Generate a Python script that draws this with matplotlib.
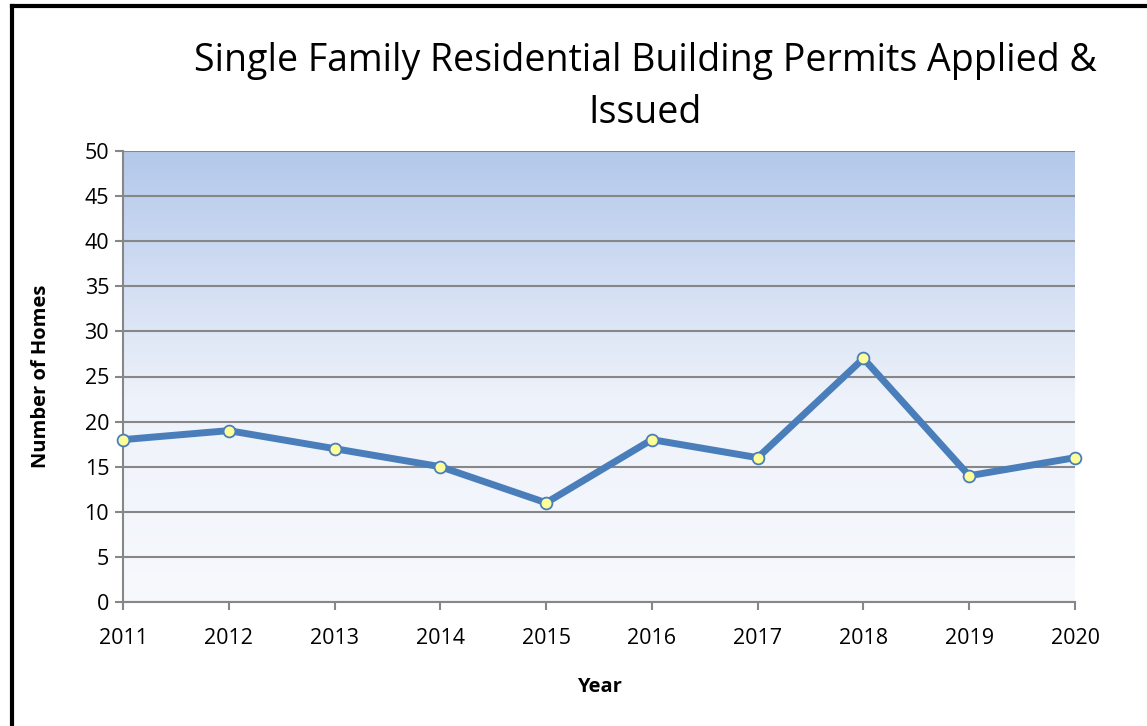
import matplotlib
matplotlib.use("Agg")
import matplotlib.pyplot as plt
import numpy as np
from matplotlib.colors import LinearSegmentedColormap
from matplotlib.lines import Line2D

years = ["2011", "2012", "2013", "2014", "2015", "2016", "2017", "2018", "2019", "2020"]
homes = [18, 19, 17, 15, 11, 18, 16, 27, 14, 16]
yticks = [0, 5, 10, 15, 20, 25, 30, 35, 40, 45, 50]

plt.rcParams['font.family'] = ['Open Sans', 'DejaVu Sans']

W, H = 1147, 726
fig = plt.figure(figsize=(W/100, H/100), dpi=100)
fig.patch.set_facecolor('white')

ax = fig.add_axes([123/W, 1-602/H, (1075-123)/W, (602-151)/H])
x = np.arange(len(years))

# gradient background
cmap = LinearSegmentedColormap.from_list('g', [(0, '#F7F9FD'), (0.45, '#EEF2FA'), (1, '#B3C8EA')])
grad = np.linspace(0, 1, 256).reshape(-1, 1)
ax.imshow(grad, aspect='auto', cmap=cmap, origin='lower',
          extent=[0, len(years)-1, 0, 50], zorder=0)

ax.set_xlim(0, len(years)-1)
ax.set_ylim(0, 50)
ax.set_yticks(yticks)
ax.set_xticks(x)
ax.set_xticklabels(years)
ax.yaxis.grid(True, color='#878787', linewidth=1.5, zorder=1)
ax.set_axisbelow(False)
for s in ['top', 'right']:
    ax.spines[s].set_visible(False)
for s in ['left', 'bottom']:
    ax.spines[s].set_color('#878787')
    ax.spines[s].set_linewidth(1.5)
ax.tick_params(axis='both', colors='#878787', length=6, width=1.5, labelsize=15.5,
               labelcolor='black', pad=4)
ax.tick_params(axis='x', pad=13)

ax.plot(x, homes, color='#4A7EBB', linewidth=5, marker='o', markersize=8.5,
        markerfacecolor='#FFFF99', markeredgecolor='#4A7EBB', markeredgewidth=1.3,
        zorder=3, clip_on=False)

ax.set_ylabel('Number of Homes', fontsize=14.5, fontweight='bold', labelpad=24)
ax.set_xlabel('Year', fontsize=14.5, fontweight='bold', labelpad=20)

fig.text(645/W, 1-87/H, 'Single Family Residential Building Permits Applied &\nIssued',
         ha='center', va='center', fontsize=27, linespacing=1.5)

# figure border (left and top visible)
fig.add_artist(Line2D([12/W, 12/W], [0, 1-6/H], color='black', linewidth=3, transform=fig.transFigure))
fig.add_artist(Line2D([12/W, 1], [1-6/H, 1-6/H], color='black', linewidth=3, transform=fig.transFigure))

fig.savefig('out.png', dpi=100, facecolor='white')
